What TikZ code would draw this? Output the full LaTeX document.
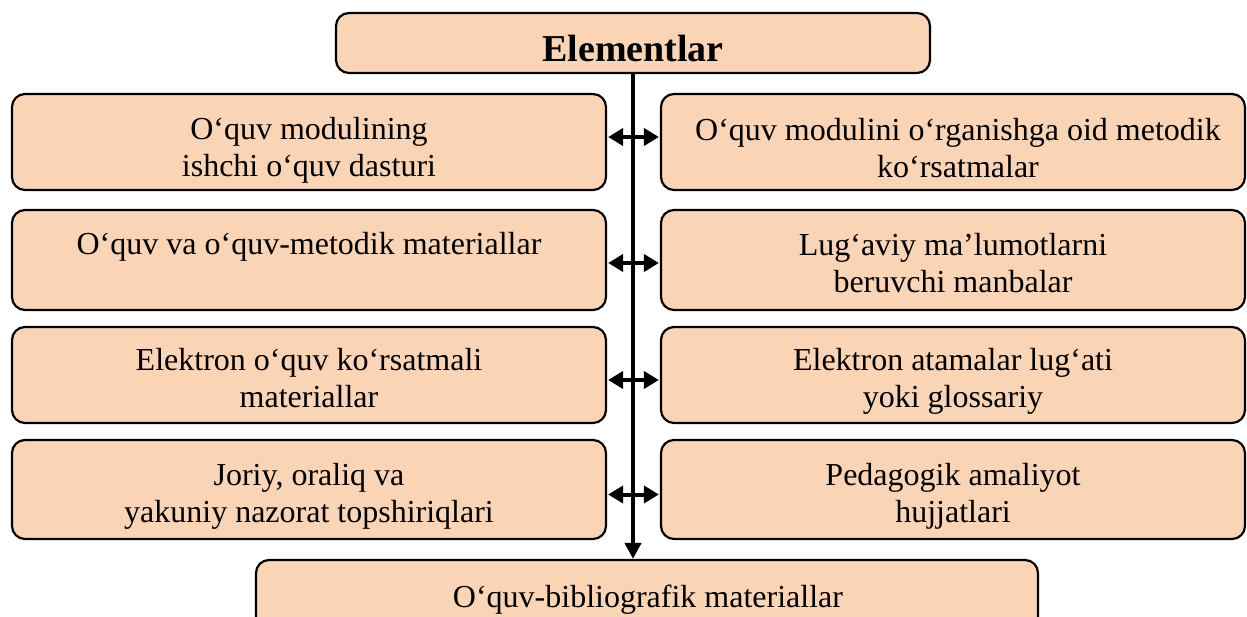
\documentclass[tikz,border=0pt]{standalone}
\usepackage{fontspec}
\setmainfont{Liberation Serif}
\usetikzlibrary{arrows.meta,calc}
\definecolor{peach}{RGB}{250,213,181}
\newcommand\mystrut{\rule{0pt}{25pt}}
\begin{document}
\begin{tikzpicture}[x=1pt,y=-1pt,
  box/.style={draw=black, line width=2.2pt, fill=peach, rounded corners=13pt, inner sep=0pt},
  lbox/.style={box, minimum width=594pt},
  rbox/.style={box, minimum width=584pt},
  lbl/.style={font=\fontsize{32}{37}\selectfont, align=center, inner sep=0pt, anchor=north},
  link/.style={line width=4pt, {Triangle[length=15pt,width=17pt]}-{Triangle[length=15pt,width=17pt]}},
  trunk/.style={line width=4pt, -{Triangle[length=16pt,width=16pt]}}
]
\useasboundingbox (0,0) rectangle (1247,617);

% top
\node[box, minimum width=594pt, minimum height=60pt] (top) at (633,43) {};
\node[font=\bfseries\fontsize{38}{44}\selectfont, inner sep=0pt, anchor=base] (topt) at (633,62) {Elementlar};

% left column
\node[lbox, minimum height=96pt] (L1) at (309,142) {};
\node[lbox, minimum height=100pt] (L2) at (309,260) {};
\node[lbox, minimum height=96pt] (L3) at (309,375) {};
\node[lbox, minimum height=99pt] (L4) at (309,489.5) {};

% right column
\node[rbox, minimum height=96pt] (R1) at (953,142) {};
\node[rbox, minimum height=100pt] (R2) at (953,260) {};
\node[rbox, minimum height=96pt] (R3) at (953,375) {};
\node[rbox, minimum height=99pt] (R4) at (953,489.5) {};

% bottom
\node[box, minimum width=782pt, minimum height=80pt] (bot) at (647,600) {};

% texts
\node[lbl] (tL1) at (309,114) {\mystrut O‘quv modulining\\ishchi o‘quv dasturi};
\node[lbl] (tL2) at (309,229) {\mystrut O‘quv va o‘quv-metodik materiallar};
\node[lbl] (tL3) at (309,345) {\mystrut Elektron o‘quv ko‘rsatmali\\materiallar};
\node[lbl] (tL4) at (309,460) {\mystrut Joriy, oraliq va\\yakuniy nazorat topshiriqlari};
\node[lbl] (tR1) at (958,115) {\mystrut O‘quv modulini o‘rganishga oid metodik\\ko‘rsatmalar};
\node[lbl] (tR2) at (953,230) {\mystrut Lug‘aviy ma’lumotlarni\\beruvchi manbalar};
\node[lbl] (tR3) at (953,345) {\mystrut Elektron atamalar lug‘ati\\yoki glossariy};
\node[lbl] (tR4) at (953,460) {\mystrut Pedagogik amaliyot\\hujjatlari};
\node[lbl] (tB) at (648,582) {\mystrut O‘quv-bibliografik materiallar};

% connectors
\draw[trunk] (top.south) -- (top.south |- bot.north);
\draw[link] ($(L1.east)+(1,-5)$) -- ($(R1.west)+(-1,-5)$);
\draw[link] ($(L2.east)+(1,3)$) -- ($(R2.west)+(-1,3)$);
\draw[link] ($(L3.east)+(1,5)$) -- ($(R3.west)+(-1,5)$);
\draw[link] ($(L4.east)+(1,5)$) -- ($(R4.west)+(-1,5)$);
\end{tikzpicture}
\end{document}
